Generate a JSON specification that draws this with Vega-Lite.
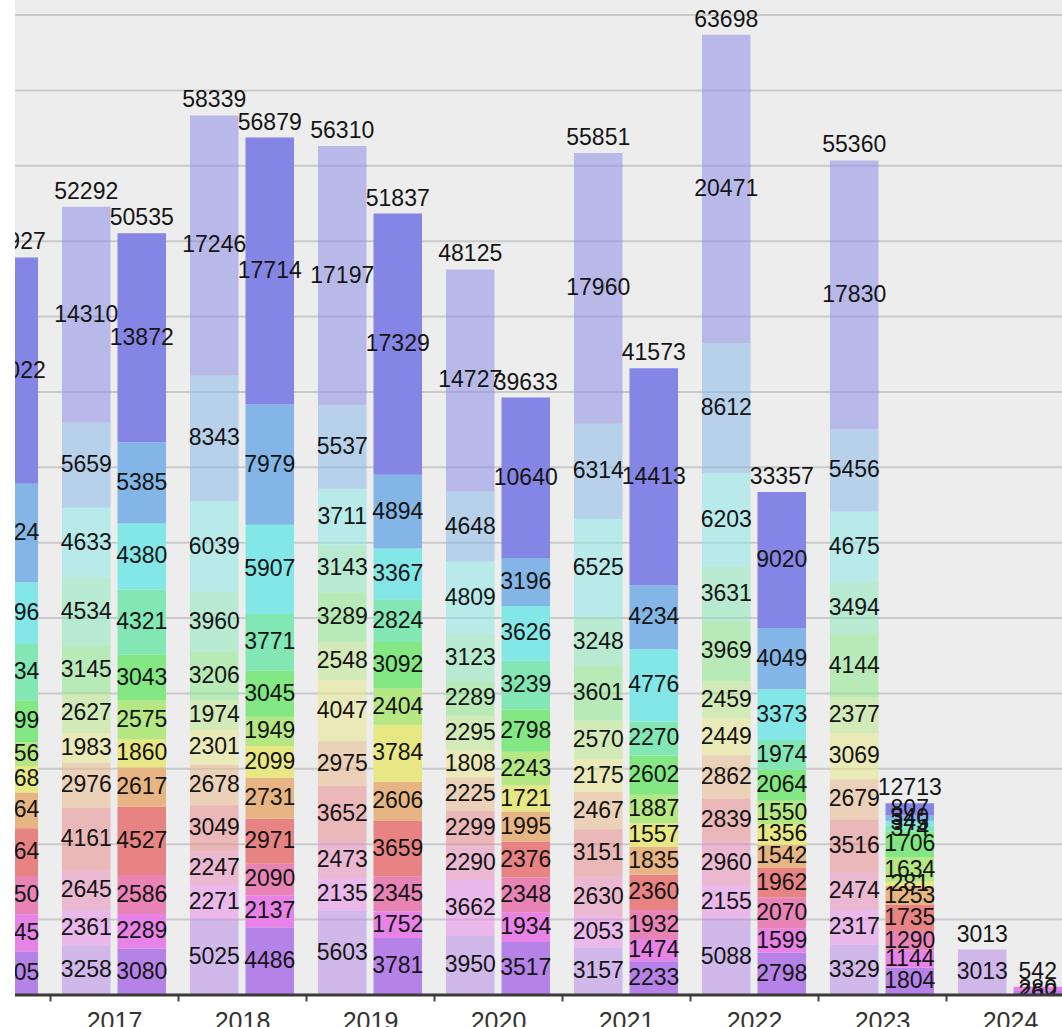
{
  "$schema": "https://vega.github.io/schema/vega-lite/v6.json",
  "width": 1047,
  "height": 995,
  "autosize": {"type": "none"},
  "padding": {"left": 15, "top": 0, "right": 0, "bottom": 32},
  "background": "#ffffff",
  "config": {"view": {"fill": "#ededed", "stroke": null}, "font": "Liberation Sans"},
  "data": {"values": [
    {"year":"2016","series":"B","month":1,"value":2905},{"year":"2016","series":"B","month":2,"value":2445},{"year":"2016","series":"B","month":3,"value":2550},{"year":"2016","series":"B","month":4,"value":3164},{"year":"2016","series":"B","month":5,"value":2364},{"year":"2016","series":"B","month":6,"value":1768},{"year":"2016","series":"B","month":7,"value":1556},{"year":"2016","series":"B","month":8,"value":2799},{"year":"2016","series":"B","month":9,"value":3734},{"year":"2016","series":"B","month":10,"value":4096},{"year":"2016","series":"B","month":11,"value":6524},{"year":"2016","series":"B","month":12,"value":15022},
    {"year":"2017","series":"A","month":1,"value":3258},{"year":"2017","series":"A","month":2,"value":2361},{"year":"2017","series":"A","month":3,"value":2645},{"year":"2017","series":"A","month":4,"value":4161},{"year":"2017","series":"A","month":5,"value":2976},{"year":"2017","series":"A","month":6,"value":1983},{"year":"2017","series":"A","month":7,"value":2627},{"year":"2017","series":"A","month":8,"value":3145},{"year":"2017","series":"A","month":9,"value":4534},{"year":"2017","series":"A","month":10,"value":4633},{"year":"2017","series":"A","month":11,"value":5659},{"year":"2017","series":"A","month":12,"value":14310},
    {"year":"2017","series":"B","month":1,"value":3080},{"year":"2017","series":"B","month":2,"value":2289},{"year":"2017","series":"B","month":3,"value":2586},{"year":"2017","series":"B","month":4,"value":4527},{"year":"2017","series":"B","month":5,"value":2617},{"year":"2017","series":"B","month":6,"value":1860},{"year":"2017","series":"B","month":7,"value":2575},{"year":"2017","series":"B","month":8,"value":3043},{"year":"2017","series":"B","month":9,"value":4321},{"year":"2017","series":"B","month":10,"value":4380},{"year":"2017","series":"B","month":11,"value":5385},{"year":"2017","series":"B","month":12,"value":13872},
    {"year":"2018","series":"A","month":1,"value":5025},{"year":"2018","series":"A","month":2,"value":2271},{"year":"2018","series":"A","month":3,"value":2247},{"year":"2018","series":"A","month":4,"value":3049},{"year":"2018","series":"A","month":5,"value":2678},{"year":"2018","series":"A","month":6,"value":2301},{"year":"2018","series":"A","month":7,"value":1974},{"year":"2018","series":"A","month":8,"value":3206},{"year":"2018","series":"A","month":9,"value":3960},{"year":"2018","series":"A","month":10,"value":6039},{"year":"2018","series":"A","month":11,"value":8343},{"year":"2018","series":"A","month":12,"value":17246},
    {"year":"2018","series":"B","month":1,"value":4486},{"year":"2018","series":"B","month":2,"value":2137},{"year":"2018","series":"B","month":3,"value":2090},{"year":"2018","series":"B","month":4,"value":2971},{"year":"2018","series":"B","month":5,"value":2731},{"year":"2018","series":"B","month":6,"value":2099},{"year":"2018","series":"B","month":7,"value":1949},{"year":"2018","series":"B","month":8,"value":3045},{"year":"2018","series":"B","month":9,"value":3771},{"year":"2018","series":"B","month":10,"value":5907},{"year":"2018","series":"B","month":11,"value":7979},{"year":"2018","series":"B","month":12,"value":17714},
    {"year":"2019","series":"A","month":1,"value":5603},{"year":"2019","series":"A","month":2,"value":2135},{"year":"2019","series":"A","month":3,"value":2473},{"year":"2019","series":"A","month":4,"value":3652},{"year":"2019","series":"A","month":5,"value":2975},{"year":"2019","series":"A","month":6,"value":4047},{"year":"2019","series":"A","month":7,"value":2548},{"year":"2019","series":"A","month":8,"value":3289},{"year":"2019","series":"A","month":9,"value":3143},{"year":"2019","series":"A","month":10,"value":3711},{"year":"2019","series":"A","month":11,"value":5537},{"year":"2019","series":"A","month":12,"value":17197},
    {"year":"2019","series":"B","month":1,"value":3781},{"year":"2019","series":"B","month":2,"value":1752},{"year":"2019","series":"B","month":3,"value":2345},{"year":"2019","series":"B","month":4,"value":3659},{"year":"2019","series":"B","month":5,"value":2606},{"year":"2019","series":"B","month":6,"value":3784},{"year":"2019","series":"B","month":7,"value":2404},{"year":"2019","series":"B","month":8,"value":3092},{"year":"2019","series":"B","month":9,"value":2824},{"year":"2019","series":"B","month":10,"value":3367},{"year":"2019","series":"B","month":11,"value":4894},{"year":"2019","series":"B","month":12,"value":17329},
    {"year":"2020","series":"A","month":1,"value":3950},{"year":"2020","series":"A","month":2,"value":3662},{"year":"2020","series":"A","month":3,"value":2290},{"year":"2020","series":"A","month":4,"value":2299},{"year":"2020","series":"A","month":5,"value":2225},{"year":"2020","series":"A","month":6,"value":1808},{"year":"2020","series":"A","month":7,"value":2295},{"year":"2020","series":"A","month":8,"value":2289},{"year":"2020","series":"A","month":9,"value":3123},{"year":"2020","series":"A","month":10,"value":4809},{"year":"2020","series":"A","month":11,"value":4648},{"year":"2020","series":"A","month":12,"value":14727},
    {"year":"2020","series":"B","month":1,"value":3517},{"year":"2020","series":"B","month":2,"value":1934},{"year":"2020","series":"B","month":3,"value":2348},{"year":"2020","series":"B","month":4,"value":2376},{"year":"2020","series":"B","month":5,"value":1995},{"year":"2020","series":"B","month":6,"value":1721},{"year":"2020","series":"B","month":7,"value":2243},{"year":"2020","series":"B","month":8,"value":2798},{"year":"2020","series":"B","month":9,"value":3239},{"year":"2020","series":"B","month":10,"value":3626},{"year":"2020","series":"B","month":11,"value":3196},{"year":"2020","series":"B","month":12,"value":10640},
    {"year":"2021","series":"A","month":1,"value":3157},{"year":"2021","series":"A","month":2,"value":2053},{"year":"2021","series":"A","month":3,"value":2630},{"year":"2021","series":"A","month":4,"value":3151},{"year":"2021","series":"A","month":5,"value":2467},{"year":"2021","series":"A","month":6,"value":2175},{"year":"2021","series":"A","month":7,"value":2570},{"year":"2021","series":"A","month":8,"value":3601},{"year":"2021","series":"A","month":9,"value":3248},{"year":"2021","series":"A","month":10,"value":6525},{"year":"2021","series":"A","month":11,"value":6314},{"year":"2021","series":"A","month":12,"value":17960},
    {"year":"2021","series":"B","month":1,"value":2233},{"year":"2021","series":"B","month":2,"value":1474},{"year":"2021","series":"B","month":3,"value":1932},{"year":"2021","series":"B","month":4,"value":2360},{"year":"2021","series":"B","month":5,"value":1835},{"year":"2021","series":"B","month":6,"value":1557},{"year":"2021","series":"B","month":7,"value":1887},{"year":"2021","series":"B","month":8,"value":2602},{"year":"2021","series":"B","month":9,"value":2270},{"year":"2021","series":"B","month":10,"value":4776},{"year":"2021","series":"B","month":11,"value":4234},{"year":"2021","series":"B","month":12,"value":14413},
    {"year":"2022","series":"A","month":1,"value":5088},{"year":"2022","series":"A","month":2,"value":2155},{"year":"2022","series":"A","month":3,"value":2960},{"year":"2022","series":"A","month":4,"value":2839},{"year":"2022","series":"A","month":5,"value":2862},{"year":"2022","series":"A","month":6,"value":2449},{"year":"2022","series":"A","month":7,"value":2459},{"year":"2022","series":"A","month":8,"value":3969},{"year":"2022","series":"A","month":9,"value":3631},{"year":"2022","series":"A","month":10,"value":6203},{"year":"2022","series":"A","month":11,"value":8612},{"year":"2022","series":"A","month":12,"value":20471},
    {"year":"2022","series":"B","month":1,"value":2798},{"year":"2022","series":"B","month":2,"value":1599},{"year":"2022","series":"B","month":3,"value":2070},{"year":"2022","series":"B","month":4,"value":1962},{"year":"2022","series":"B","month":5,"value":1542},{"year":"2022","series":"B","month":6,"value":1356},{"year":"2022","series":"B","month":7,"value":1550},{"year":"2022","series":"B","month":8,"value":2064},{"year":"2022","series":"B","month":9,"value":1974},{"year":"2022","series":"B","month":10,"value":3373},{"year":"2022","series":"B","month":11,"value":4049},{"year":"2022","series":"B","month":12,"value":9020},
    {"year":"2023","series":"A","month":1,"value":3329},{"year":"2023","series":"A","month":2,"value":2317},{"year":"2023","series":"A","month":3,"value":2474},{"year":"2023","series":"A","month":4,"value":3516},{"year":"2023","series":"A","month":5,"value":2679},{"year":"2023","series":"A","month":6,"value":3069},{"year":"2023","series":"A","month":7,"value":2377},{"year":"2023","series":"A","month":8,"value":4144},{"year":"2023","series":"A","month":9,"value":3494},{"year":"2023","series":"A","month":10,"value":4675},{"year":"2023","series":"A","month":11,"value":5456},{"year":"2023","series":"A","month":12,"value":17830},
    {"year":"2023","series":"B","month":1,"value":1804},{"year":"2023","series":"B","month":2,"value":1144},{"year":"2023","series":"B","month":3,"value":1290},{"year":"2023","series":"B","month":4,"value":1735},{"year":"2023","series":"B","month":5,"value":1253},{"year":"2023","series":"B","month":6,"value":281},{"year":"2023","series":"B","month":7,"value":1634},{"year":"2023","series":"B","month":8,"value":1706},{"year":"2023","series":"B","month":9,"value":374},{"year":"2023","series":"B","month":10,"value":345},{"year":"2023","series":"B","month":11,"value":340},{"year":"2023","series":"B","month":12,"value":807},
    {"year":"2024","series":"A","month":1,"value":3013},
    {"year":"2024","series":"B","month":1,"value":262},{"year":"2024","series":"B","month":2,"value":280}
  ]},
  "layer": [
    {
      "data": {"values": [{"g":5000},{"g":10000},{"g":15000},{"g":20000},{"g":25000},{"g":30000},{"g":35000},{"g":40000},{"g":45000},{"g":50000},{"g":55000},{"g":60000},{"g":65000}]},
      "mark": {"type": "rule", "color": "#cacaca", "strokeWidth": 2},
      "encoding": {
        "y": {"field": "g", "type": "quantitative", "axis": null, "scale": {"domain": [0, 66000], "nice": false}}
      }
    },
    {
      "mark": {"type": "bar", "clip": true},
      "encoding": {
        "x": {"field": "year", "type": "nominal",
              "scale": {"domain": ["2016","2017","2018","2019","2020","2021","2022","2023","2024"], "range": [-93, 1059], "paddingInner": 0, "paddingOuter": 0},
              "axis": {"title": null, "domain": false, "grid": false, "tickBand": "extent", "tickColor": "#444444", "tickSize": 6, "tickWidth": 2,
                       "labelFontSize": 25, "labelColor": "#333333", "labelPadding": 8, "labelAngle": 0,
                       "labelExpr": "datum.value == '2016' ? '' : datum.label"}},
        "xOffset": {"field": "series", "type": "nominal", "scale": {"domain": ["A","B"], "paddingInner": 0.126, "paddingOuter": 0.216}},
        "y": {"field": "value", "type": "quantitative", "stack": "zero", "axis": null},
        "order": {"field": "month", "type": "quantitative"},
        "color": {"field": "month", "type": "ordinal", "legend": null,
                  "scale": {"domain": [1,2,3,4,5,6,7,8,9,10,11,12],
                            "range": ["#b583e7","#e783e7","#e783b5","#e78383","#e7b583","#e7e783","#b5e783","#83e783","#83e7b5","#83e7e7","#83b5e7","#8585e5"]}},
        "opacity": {"field": "series", "type": "nominal", "legend": null, "scale": {"domain": ["A","B"], "range": [0.5, 1]}}
      }
    },
    {
      "transform": [
        {"stack": "value", "groupby": ["year","series"], "sort": [{"field": "month", "order": "ascending"}], "as": ["v0","v1"]},
        {"calculate": "(datum.v0 + datum.v1) / 2", "as": "mid"}
      ],
      "mark": {"type": "text", "clip": true, "fontSize": 23, "color": "#151515", "baseline": "middle", "align": "center"},
      "encoding": {
        "x": {"field": "year", "type": "nominal",
              "axis": {"title": null, "domain": false, "grid": false, "tickBand": "extent", "tickColor": "#444444", "tickSize": 6, "tickWidth": 2,
                       "labelFontSize": 25, "labelColor": "#333333", "labelPadding": 8, "labelAngle": 0,
                       "labelExpr": "datum.value == '2016' ? '' : datum.label"}},
        "xOffset": {"field": "series", "type": "nominal"},
        "y": {"field": "mid", "type": "quantitative", "axis": null},
        "text": {"field": "value", "type": "quantitative", "format": "d"}
      }
    },
    {
      "transform": [
        {"aggregate": [{"op": "sum", "field": "value", "as": "total"}], "groupby": ["year","series"]}
      ],
      "mark": {"type": "text", "clip": true, "fontSize": 23, "color": "#151515", "baseline": "alphabetic", "align": "center", "dy": -8},
      "encoding": {
        "x": {"field": "year", "type": "nominal",
              "axis": {"title": null, "domain": false, "grid": false, "tickBand": "extent", "tickColor": "#444444", "tickSize": 6, "tickWidth": 2,
                       "labelFontSize": 25, "labelColor": "#333333", "labelPadding": 8, "labelAngle": 0,
                       "labelExpr": "datum.value == '2016' ? '' : datum.label"}},
        "xOffset": {"field": "series", "type": "nominal"},
        "y": {"field": "total", "type": "quantitative", "axis": null},
        "text": {"field": "total", "type": "quantitative", "format": "d"}
      }
    },
    {
      "data": {"values": [{"z": 0}]},
      "mark": {"type": "rule", "color": "#3a3a3a", "strokeWidth": 3},
      "encoding": {
        "y": {"datum": 0, "type": "quantitative", "axis": null}
      }
    }
  ]
}
